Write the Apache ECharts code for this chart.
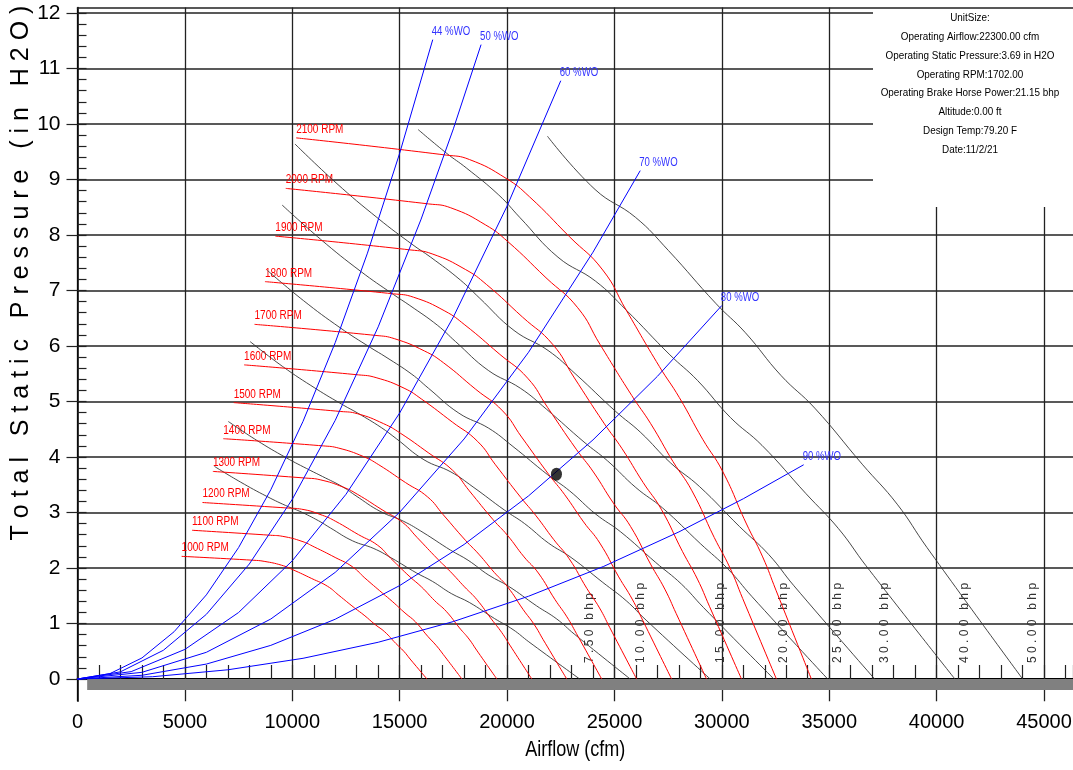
<!DOCTYPE html>
<html><head><meta charset="utf-8">
<script src="https://cdn.jsdelivr.net/npm/echarts@6.0.0/dist/echarts.min.js"></script>
<style>html,body{margin:0;padding:0;background:#fff}#c{width:1073px;height:770px}</style>
</head><body><div id="c"></div>
<script>
// ---------- tick / axis values ----------
const xMax = 46350;
const yMin = -0.4, yMax = 12.1;
const yTickMax = 12;

// ---------- fan RPM curves (airflow cfm, static pressure in H2O) ----------
const rpmNames = ['1000 RPM','1100 RPM','1200 RPM','1300 RPM','1400 RPM','1500 RPM','1600 RPM','1700 RPM','1800 RPM','1900 RPM','2000 RPM','2100 RPM'];
const rpm1000 = [[4848,2.21],[8173,2.14],[8690,2.12],[9503,2.05],[10020,1.97],[10906,1.81],[11644,1.67],[12163,1.51],[12901,1.28],[13344,1.15],[13861,0.98],[14304,0.85],[14823,0.64],[15191,0.50],[15486,0.36],[16271,0]];
const rpm1100 = [[5333,2.68],[8990,2.59],[9558,2.57],[10453,2.48],[11021,2.38],[11997,2.19],[12809,2.02],[13379,1.82],[14191,1.55],[14679,1.39],[15247,1.19],[15735,1.03],[16305,0.77],[16710,0.60],[17034,0.44],[17898,0]];
const rpm1200 = [[5818,3.18],[9807,3.08],[10427,3.06],[11403,2.95],[12023,2.84],[13087,2.60],[13973,2.41],[14595,2.17],[15481,1.84],[16013,1.66],[16633,1.41],[17165,1.22],[17787,0.92],[18229,0.72],[18583,0.52],[19525,0]];
const rpm1300 = [[6303,3.74],[10625,3.62],[11296,3.59],[12354,3.46],[13025,3.33],[14178,3.05],[15138,2.82],[15812,2.55],[16771,2.16],[17348,1.94],[18019,1.66],[18596,1.43],[19270,1.08],[19748,0.84],[20131,0.61],[21152,0]];
const rpm1400 = [[6787,4.33],[11442,4.20],[12165,4.16],[13304,4.01],[14027,3.86],[15269,3.54],[16302,3.28],[17028,2.96],[18061,2.50],[18682,2.25],[19405,1.92],[20026,1.66],[20752,1.25],[21267,0.98],[21680,0.71],[22779,0]];
const rpm1500 = [[7272,4.98],[12259,4.82],[13034,4.78],[14254,4.60],[15029,4.43],[16359,4.07],[17466,3.76],[18244,3.39],[19352,2.87],[20016,2.59],[20792,2.20],[21456,1.91],[22234,1.43],[22787,1.12],[23229,0.82],[24406,0]];
const rpm1600 = [[7757,5.66],[13077,5.48],[13903,5.43],[15205,5.24],[16031,5.04],[17450,4.63],[18631,4.28],[19461,3.86],[20642,3.27],[21351,2.94],[22178,2.51],[22887,2.17],[23717,1.63],[24306,1.28],[24777,0.93],[26033,0]];
const rpm1700 = [[8242,6.39],[13894,6.19],[14772,6.13],[16155,5.91],[17033,5.70],[18541,5.22],[19795,4.83],[20677,4.36],[21932,3.69],[22685,3.32],[23564,2.83],[24317,2.45],[25199,1.84],[25825,1.44],[26326,1.05],[27660,0]];
const rpm1800 = [[8727,7.16],[14711,6.94],[15641,6.88],[17105,6.63],[18035,6.38],[19631,5.86],[20960,5.42],[21893,4.89],[23222,4.14],[24020,3.73],[24950,3.17],[25748,2.75],[26681,2.07],[27344,1.62],[27874,1.18],[29287,0]];
const rpm1900 = [[9211,7.98],[15529,7.73],[16510,7.66],[18056,7.38],[19037,7.11],[20722,6.52],[22124,6.03],[23110,5.44],[24512,4.61],[25354,4.15],[26336,3.54],[27178,3.06],[28164,2.30],[28863,1.80],[29423,1.31],[30914,0]];
const rpm2000 = [[9696,8.84],[16346,8.56],[17379,8.49],[19006,8.18],[20039,7.88],[21812,7.23],[23289,6.69],[24326,6.03],[25802,5.11],[26689,4.60],[27722,3.92],[28609,3.39],[29646,2.55],[30382,2.00],[30971,1.45],[32541,0]];
const rpm2100 = [[10181,9.75],[17163,9.44],[18248,9.36],[19956,9.02],[21041,8.69],[22903,7.97],[24453,7.37],[25542,6.65],[27092,5.63],[28023,5.07],[29108,4.32],[30039,3.74],[31128,2.81],[31901,2.20],[32520,1.60],[34168,0]];
const rpmCurves = [rpm1000,rpm1100,rpm1200,rpm1300,rpm1400,rpm1500,rpm1600,rpm1700,rpm1800,rpm1900,rpm2000,rpm2100];

// ---------- wide-open (%WO) system curves ----------
const woNames = ['44 %WO','50 %WO','60 %WO','70 %WO','80 %WO','90 %WO'];
const wo44 = [[0,0],[1500,0.095],[3000,0.379],[4500,0.853],[6000,1.516],[7500,2.368],[9000,3.41],[10500,4.642],[12000,6.062],[13500,7.673],[15000,9.473],[16540,11.52]];
const wo50 = [[0,0],[2000,0.129],[4000,0.518],[6000,1.165],[8000,2.072],[10000,3.237],[12000,4.661],[14000,6.345],[16000,8.287],[17500,9.913],[18790,11.43]];
const wo60 = [[0,0],[2500,0.133],[5000,0.533],[7500,1.198],[10000,2.13],[12500,3.328],[15000,4.793],[17500,6.523],[20000,8.52],[22500,10.78]];
const wo70 = [[0,0],[3000,0.12],[6000,0.481],[9000,1.081],[12000,1.922],[15000,3.004],[18000,4.325],[21000,5.887],[24000,7.69],[26200,9.16]];
const wo80 = [[0,0],[3000,0.067],[6000,0.269],[9000,0.606],[12000,1.077],[15000,1.683],[18000,2.424],[21000,3.299],[24000,4.308],[27000,5.453],[30000,6.73]];
const wo90 = [[0,0],[3500,0.041],[7000,0.166],[10500,0.373],[14000,0.662],[17500,1.035],[21000,1.491],[24500,2.029],[28000,2.65],[31000,3.248],[33810,3.86]];
const woCurves = [wo44,wo50,wo60,wo70,wo80,wo90];

// ---------- constant brake-horse-power curves ----------
const bhpNames = ['7 . 5 0   b h p','1 0 . 0 0   b h p','1 5 . 0 0   b h p','2 0 . 0 0   b h p','2 5 . 0 0   b h p','3 0 . 0 0   b h p','4 0 . 0 0   b h p','5 0 . 0 0   b h p'];
const bhp7_5 = [[6378,3.83],[7583,3.55],[8814,3.29],[9841,3.10],[10358,3.02],[11227,2.85],[11782,2.72],[12804,2.49],[13801,2.35],[14619,2.18],[15787,1.91],[16522,1.76],[17402,1.54],[18240,1.38],[19413,1.09],[20278,0.89],[21013,0.67],[23381,0]];
const bhp10 = [[7020,4.64],[8346,4.30],[9701,3.99],[10831,3.76],[11401,3.65],[12357,3.46],[12967,3.30],[14093,3.02],[15190,2.84],[16090,2.64],[17376,2.32],[18184,2.14],[19153,1.87],[20075,1.67],[21366,1.32],[22318,1.08],[23128,0.81],[25734,0]];
const bhp15 = [[8036,6.08],[9554,5.63],[11105,5.23],[12399,4.93],[13051,4.79],[14145,4.53],[14844,4.33],[16132,3.95],[17389,3.73],[18419,3.46],[19891,3.04],[20816,2.80],[21925,2.45],[22980,2.19],[24458,1.74],[25549,1.41],[26475,1.06],[29458,0]];
const bhp20 = [[8845,7.36],[10515,6.82],[12223,6.33],[13647,5.97],[14364,5.80],[15569,5.49],[16338,5.24],[17756,4.79],[19139,4.52],[20273,4.19],[21893,3.68],[22911,3.39],[24132,2.97],[25293,2.65],[26920,2.10],[28120,1.71],[29140,1.29],[32423,0]];
const bhp25 = [[9528,8.54],[11327,7.92],[13167,7.35],[14701,6.93],[15474,6.73],[16771,6.37],[17600,6.08],[19127,5.56],[20617,5.24],[21838,4.86],[23583,4.27],[24680,3.93],[25995,3.45],[27246,3.08],[28999,2.44],[30291,1.98],[31390,1.49],[34927,0]];
const bhp30 = [[10125,9.64],[12037,8.94],[13992,8.30],[15622,7.82],[16443,7.60],[17822,7.19],[18702,6.87],[20325,6.28],[21908,5.92],[23206,5.49],[25060,4.82],[26227,4.44],[27623,3.89],[28953,3.47],[30815,2.75],[32189,2.24],[33356,1.68],[37115,0]];
const bhp40 = [[15860,9.90],[17194,9.47],[18098,9.21],[19616,8.72],[20585,8.32],[22371,7.60],[24114,7.17],[25542,6.65],[27583,5.84],[28866,5.38],[30404,4.71],[31868,4.21],[33917,3.34],[35430,2.71],[36714,2.04],[40851,0]];
const bhp50 = [[21880,9.78],[24098,8.82],[25975,8.32],[27514,7.72],[29713,6.77],[31095,6.24],[32751,5.47],[34328,4.88],[36536,3.87],[38164,3.15],[39549,2.37],[44005,0]];
const bhpCurves = [bhp7_5,bhp10,bhp15,bhp20,bhp25,bhp30,bhp40,bhp50];

// ---------- operating point & base bar ----------
const operatingPoint = [[22300, 3.69]];
const baseBar = [[450, 0], [xMax, -0.2]];

// ---------- texts ----------
const infoLines = ['UnitSize:','Operating Airflow:22300.00 cfm','Operating Static Pressure:3.69 in H2O','Operating RPM:1702.00','Operating Brake Horse Power:21.15 bhp','Altitude:0.00 ft','Design Temp:79.20 F','Date:11/2/21'];
const yTitle = 'T o t a l   S t a t i c   P r e s s u r e   ( i n   H 2 O )';
const xTitle = 'Airflow (cfm)';

const REG = "'Liberation Sans',Arial,sans-serif";

const series = [];
bhpCurves.forEach((d,i)=>series.push({type:'line',name:bhpNames[i],data:d,xAxisIndex:0,yAxisIndex:0,symbol:'none',smooth:0.45,silent:true,
  lineStyle:{color:'#333',width:0.9}}));
rpmCurves.forEach((d,i)=>series.push({type:'line',name:rpmNames[i],data:d,xAxisIndex:0,yAxisIndex:0,symbol:'none',smooth:0.5,silent:true,
  lineStyle:{color:'#ff0000',width:1}}));
woCurves.forEach((d,i)=>series.push({type:'line',name:woNames[i],data:d,xAxisIndex:0,yAxisIndex:0,symbol:'none',smooth:false,silent:true,
  lineStyle:{color:'#0000ff',width:1}}));
series.push({type:'scatter',name:'base',data:[baseBar[1]],xAxisIndex:0,yAxisIndex:0,symbolSize:0,z:-1,silent:true,
  markArea:{silent:true,itemStyle:{color:'#808080'},data:[[{coord:baseBar[0]},{coord:baseBar[1]}]]}});
series.push({type:'scatter',name:'Operating point',data:operatingPoint,xAxisIndex:0,yAxisIndex:0,symbol:'circle',symbolSize:[11,13],
  itemStyle:{color:'#000'},z:10,silent:true});

const chart = echarts.init(document.getElementById('c'), null, {renderer:'canvas'});
chart.setOption({
  animation:false,
  backgroundColor:'#fff',
  grid:[
    {left:77.5,right:0,top:7.45,bottom:68.8,outerBoundsMode:'none',containLabel:false},
    {left:77.5,right:0,top:13,bottom:91,outerBoundsMode:'none',containLabel:false}
  ],
  xAxis:[
    {gridIndex:0,type:'value',min:0,max:xMax,interval:5000,position:'top',
      axisLine:{show:true,onZero:false,lineStyle:{color:'#222',width:1.5}},axisTick:{show:false},axisLabel:{show:false},
      splitLine:{show:true,showMaxLine:false,lineStyle:{color:'#222',width:1.3}}},
    {gridIndex:1,type:'value',min:0,max:xMax,interval:1000,position:'bottom',
      axisLine:{show:true,onZero:false,lineStyle:{color:'#000',width:2}},
      axisTick:{show:true,inside:true,length:14,lineStyle:{color:'#222',width:1.2}},
      axisLabel:{show:true,formatter:v=>(v%5000===0?String(v):''),margin:33,fontSize:20,fontFamily:REG,color:'#000'},
      splitLine:{show:false}}
  ],
  yAxis:[
    {gridIndex:0,type:'value',min:yMin,max:yMax,position:'left',
      axisLine:{show:true,onZero:false,lineStyle:{color:'#000',width:1.5}},axisTick:{show:false},axisLabel:{show:false},splitLine:{show:false}},
    {gridIndex:1,type:'value',min:0,max:yTickMax,interval:1,position:'left',
      axisLine:{show:false,onZero:false},
      axisTick:{show:true,inside:true,length:9,lineStyle:{color:'#222',width:1.2}},
      minorTick:{show:true,splitNumber:5,length:9,lineStyle:{color:'#222',width:1.2}},
      axisLabel:{show:false},splitLine:{show:true,lineStyle:{color:'#222',width:1.5}}},
    {gridIndex:1,type:'value',min:0,max:yTickMax,interval:1,position:'left',
      axisLine:{show:false,onZero:false},
      axisTick:{show:true,inside:false,length:11,lineStyle:{color:'#222',width:1.2}},
      axisLabel:{show:true,margin:17,fontSize:21,fontFamily:REG,color:'#000'},splitLine:{show:false}}
  ],
  series:series
});

// ---------- labels placed through the chart's own scales ----------
const toPx = p => chart.convertToPixel({gridIndex:0}, p);
const g = [];
rpmCurves.forEach((d,i)=>{
  const [x,y] = toPx(d[0]);
  g.push({type:'text',x:x,y:y-2,scaleX:0.8,silent:true,style:{text:rpmNames[i],fill:'#ff0000',font:'12.5px '+REG,align:'left',verticalAlign:'bottom'}});
});
woCurves.forEach((d,i)=>{
  const [x,y] = toPx(d[d.length-1]);
  g.push({type:'text',x:x-1,y:y-2,scaleX:0.8,silent:true,style:{text:woNames[i],fill:'#3333ff',font:'12px '+REG,align:'left',verticalAlign:'bottom'}});
});
bhpCurves.forEach((d,i)=>{
  const [x,y] = toPx(d[d.length-1]);
  g.push({type:'text',x:x+4,y:y-16,rotation:Math.PI/2,silent:true,style:{text:bhpNames[i],fill:'#333',font:'12px '+REG,align:'left',verticalAlign:'top'}});
});
// axis titles
const [x0] = toPx([0,0]);
const [x1] = toPx([xMax,0]);
g.push({type:'text',x:(x0+x1)/2,y:750,scaleX:0.82,silent:true,style:{text:xTitle,fill:'#000',font:'22px '+REG,align:'center',verticalAlign:'middle'}});
g.push({type:'text',x:21,y:273,rotation:Math.PI/2,silent:true,style:{text:yTitle,fill:'#000',font:'25px '+REG,align:'center',verticalAlign:'middle'}});
// info box
g.push({type:'rect',shape:{x:873,y:0,width:200,height:207},silent:true,style:{fill:'#fff'}});
infoLines.forEach((t,i)=>{
  g.push({type:'text',x:970,y:18+i*18.8,scaleX:0.86,silent:true,style:{text:t,fill:'#000',font:'11.5px '+REG,align:'center',verticalAlign:'middle'}});
});
chart.setOption({graphic:g});
</script>
</body></html>
